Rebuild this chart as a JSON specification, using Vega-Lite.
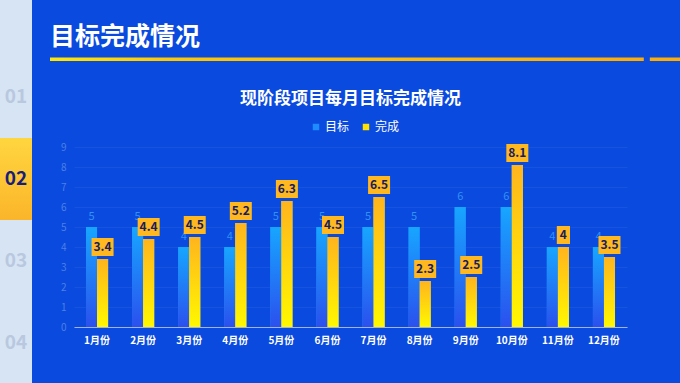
{
  "$schema": "https://vega.github.io/schema/vega-lite/v6.json",
  "background": "#0a4ade",
  "padding": 0,
  "bounds": "flush",
  "spacing": 18,
  "resolve": {"legend": {"color": "independent"}, "scale": {"color": "independent"}},
  "config": {
    "font": "Noto Sans CJK SC",
    "view": {"stroke": null}
  },
  "hconcat": [
    {
      "width": 32,
      "height": 383,
      "view": {"fill": "#d6e4f4", "stroke": null},
      "data": {"values": [{"num": "01"}, {"num": "02"}, {"num": "03"}, {"num": "04"}]},
      "encoding": {
        "y": {"field": "num", "type": "nominal", "scale": {"range": [56, 384], "paddingInner": 0, "paddingOuter": 0}, "axis": null}
      },
      "layer": [
        {
          "transform": [{"filter": "datum.num == '02'"}],
          "mark": {"type": "rect", "fill": {"gradient": "linear", "x1": 0, "y1": 0, "x2": 0, "y2": 1, "stops": [{"offset": 0, "color": "#ffd63f"}, {"offset": 1, "color": "#fbb52a"}]}},
          "encoding": {}
        },
        {
          "mark": {"type": "text", "fontSize": 19, "fontWeight": "bold"},
          "encoding": {
            "text": {"field": "num"},
            "color": {"condition": {"test": "datum.num == '02'", "value": "#16207a"}, "value": "#b9c8de"}
          }
        }
      ]
    },
    {
      "bounds": "flush",
      "spacing": 85,
      "center": true,
      "resolve": {"legend": {"color": "independent"}, "scale": {"color": "independent"}},
      "vconcat": [
        {
          "width": 601,
          "height": 62,
          "data": {"values": [{"heading": "目标完成情况"}]},
          "layer": [
            {
              "mark": {"type": "rect", "fill": {"gradient": "linear", "x1": 0, "y1": 0, "x2": 1, "y2": 0, "stops": [{"offset": 0, "color": "#ffe800"}, {"offset": 0.2, "color": "#ffc800"}, {"offset": 1, "color": "#ffad00"}]}},
              "encoding": {
                "x": {"datum": 0, "type": "quantitative", "scale": {"domain": [0, 1]}, "axis": null},
                "x2": {"datum": 0.988},
                "y": {"datum": 0.016, "type": "quantitative", "scale": {"domain": [0, 1]}, "axis": null},
                "y2": {"datum": 0.073}
              }
            },
            {
              "mark": {"type": "rect", "fill": "#ffad00", "clip": false},
              "encoding": {
                "x": {"datum": 0.998, "type": "quantitative"},
                "x2": {"datum": 1.06},
                "y": {"datum": 0.016, "type": "quantitative"},
                "y2": {"datum": 0.073}
              }
            },
            {
              "mark": {"type": "text", "align": "left", "baseline": "middle", "fontSize": 25, "fontWeight": "bold", "fill": "#ffffff"},
              "encoding": {
                "x": {"datum": 0, "type": "quantitative"},
                "y": {"datum": 0.403, "type": "quantitative"},
                "text": {"field": "heading"}
              }
            }
          ]
        },
        {
          "width": 553,
          "height": 180,
          "title": {"text": "现阶段项目每月目标完成情况", "fontSize": 17, "fontWeight": "bold", "color": "#ffffff", "anchor": "middle", "offset": 13},
          "data": {
            "values": [
              {"month": "1月份", "series": "目标", "value": 5},
              {"month": "1月份", "series": "完成", "value": 3.4},
              {"month": "2月份", "series": "目标", "value": 5},
              {"month": "2月份", "series": "完成", "value": 4.4},
              {"month": "3月份", "series": "目标", "value": 4},
              {"month": "3月份", "series": "完成", "value": 4.5},
              {"month": "4月份", "series": "目标", "value": 4},
              {"month": "4月份", "series": "完成", "value": 5.2},
              {"month": "5月份", "series": "目标", "value": 5},
              {"month": "5月份", "series": "完成", "value": 6.3},
              {"month": "6月份", "series": "目标", "value": 5},
              {"month": "6月份", "series": "完成", "value": 4.5},
              {"month": "7月份", "series": "目标", "value": 5},
              {"month": "7月份", "series": "完成", "value": 6.5},
              {"month": "8月份", "series": "目标", "value": 5},
              {"month": "8月份", "series": "完成", "value": 2.3},
              {"month": "9月份", "series": "目标", "value": 6},
              {"month": "9月份", "series": "完成", "value": 2.5},
              {"month": "10月份", "series": "目标", "value": 6},
              {"month": "10月份", "series": "完成", "value": 8.1},
              {"month": "11月份", "series": "目标", "value": 4},
              {"month": "11月份", "series": "完成", "value": 4},
              {"month": "12月份", "series": "目标", "value": 4},
              {"month": "12月份", "series": "完成", "value": 3.5}
            ]
          },
          "encoding": {
            "x": {
              "field": "month", "type": "nominal", "sort": null,
              "scale": {"paddingInner": 0.52, "paddingOuter": 0.26},
              "axis": {"domainColor": "#a3b3ea", "domainWidth": 1, "ticks": false, "labelColor": "#ffffff", "labelFontSize": 10, "labelFontWeight": "bold", "labelPadding": 8, "labelAngle": 0, "title": null}
            },
            "xOffset": {"field": "series", "type": "nominal", "sort": ["目标", "完成"]},
            "y": {
              "field": "value", "type": "quantitative",
              "scale": {"domain": [0, 9]},
              "axis": {"values": [0, 1, 2, 3, 4, 5, 6, 7, 8, 9], "domain": false, "ticks": false, "labelColor": "#4a80e6", "labelFontSize": 10, "labelPadding": 8, "gridColor": "#ffffff", "gridOpacity": 0.05, "title": null}
            }
          },
          "layer": [
            {
              "mark": {"type": "bar"},
              "encoding": {
                "color": {
                  "field": "series", "type": "nominal",
                  "scale": {"domain": ["目标", "完成"], "range": ["#1e8cff", "#ffe200"]},
                  "legend": {"orient": "none", "legendX": 236, "legendY": -26, "direction": "horizontal", "title": null, "symbolType": "square", "symbolSize": 42, "symbolStrokeWidth": 0, "labelColor": "#ffffff", "labelFontSize": 12, "columnPadding": 10, "labelOffset": 3}
                }
              }
            },
            {
              "transform": [{"filter": "datum.series == '目标'"}],
              "mark": {"type": "bar", "fill": {"gradient": "linear", "x1": 0, "y1": 0, "x2": 0, "y2": 1, "stops": [{"offset": 0, "color": "#17a6ff"}, {"offset": 1, "color": "#2b50ee"}]}}
            },
            {
              "transform": [{"filter": "datum.series == '完成'"}],
              "mark": {"type": "bar", "fill": {"gradient": "linear", "x1": 0, "y1": 0, "x2": 0, "y2": 1, "stops": [{"offset": 0, "color": "#ffb41e"}, {"offset": 1, "color": "#fff800"}]}}
            },
            {
              "transform": [{"filter": "datum.series == '目标'"}],
              "mark": {"type": "text", "dy": -10, "fontSize": 11, "fill": "#3390f5"},
              "encoding": {"text": {"field": "value", "type": "quantitative"}}
            },
            {
              "transform": [{"filter": "datum.series == '完成'"}],
              "mark": {"type": "point", "filled": true, "opacity": 1, "size": 484, "fill": "#ffb81f", "strokeWidth": 0},
              "encoding": {
                "shape": {"condition": {"test": "datum.value == floor(datum.value)", "value": "M-0.6,-1.91H0.6V-0.27H-0.6Z"}, "value": "M-1,-1.91H1V-0.27H-1Z"}
              }
            },
            {
              "transform": [{"filter": "datum.series == '完成'"}],
              "mark": {"type": "text", "dy": -12, "fontSize": 12, "fontWeight": "bold", "fill": "#17205f"},
              "encoding": {"text": {"field": "value", "type": "quantitative"}}
            }
          ]
        }
      ]
    }
  ]
}
